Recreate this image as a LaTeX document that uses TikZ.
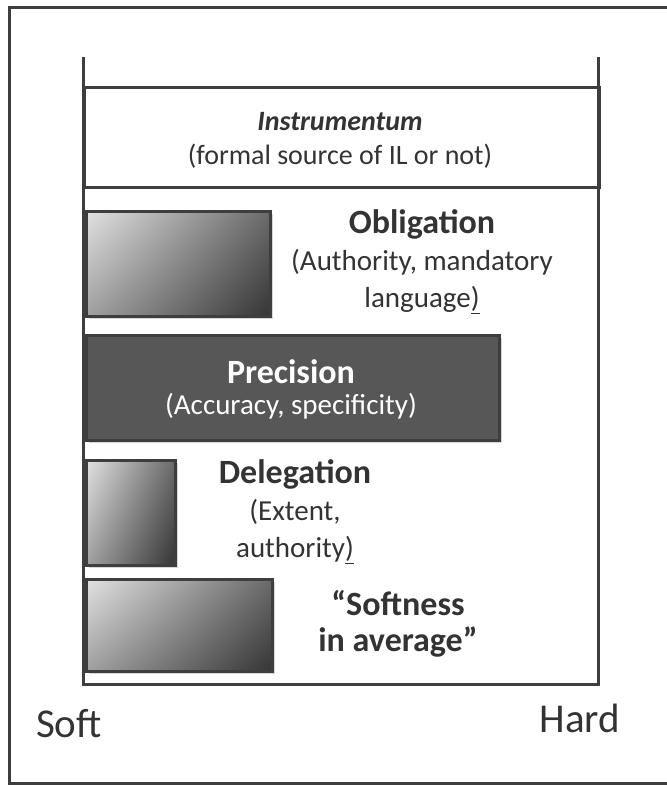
\documentclass[tikz,border=0pt]{standalone}
\usepackage{fontspec}
\setmainfont{Carlito}
\usetikzlibrary{shadows,shadings}
\definecolor{ink}{HTML}{333333}
\definecolor{edge}{HTML}{3E3E3E}
\definecolor{ulc}{HTML}{E2E2E2}
\definecolor{llc}{HTML}{A0A0A0}
\definecolor{urc}{HTML}{6A6A6A}
\definecolor{lrc}{HTML}{353535}
\definecolor{precfill}{HTML}{575757}
\newcommand\bartitlefmt{\fontsize{34}{37}\selectfont\bfseries}
\begin{document}
\begin{tikzpicture}[x=1pt,y=-1pt,
  frameline/.style={draw=edge,line width=3pt},
  barbox/.style={draw=edge,line width=2.5pt,inner sep=0pt,anchor=north west,
     drop shadow={shadow xshift=2.5pt,shadow yshift=-2.5pt,fill=black!30}},
  gradbar/.style={barbox,upper left=ulc,lower left=llc,upper right=urc,lower right=lrc},
  regtext/.style={text=ink,align=center,font=\fontsize{29}{37}\selectfont},
  axislabel/.style={text=ink,font=\fontsize{41}{44}\selectfont}]
\useasboundingbox (0,0) rectangle (667,785);
% outer frame (its right side lies beyond the picture)
\draw[frameline] (700,7) -- (9,7) -- (9,783) -- (700,783);
% axis frame
\coordinate (tl) at (83,57);
\coordinate (tr) at (598,57);
\coordinate (bl) at (83,684);
\coordinate (br) at (598,684);
\draw[frameline] (tl) -- (bl) -- (br) -- (tr);
% instrumentum box
\node (instr) [draw=edge,line width=3pt,minimum width=515pt,minimum height=100pt,inner sep=0pt,
   anchor=north west] at (83,86) {};
\node (instrtxt) [regtext,font=\fontsize{28}{34}\selectfont] at (340,140)
  {\textbf{\textit{Instrumentum}}\\(formal source of IL or not)};
% bars
\node (obl) [gradbar,minimum width=184pt,minimum height=105pt] at (85,210) {};
\node (prec) [barbox,fill=precfill,minimum width=413pt,minimum height=105pt] at (85,334) {};
\node (del) [gradbar,minimum width=89pt,minimum height=105pt] at (85,459) {};
\node (soft) [gradbar,minimum width=186pt,minimum height=92pt] at (85,578) {};
% texts
\node (obltxt) [regtext] at (422,262)
  {{\bartitlefmt Obligation}\\(Authority, mandatory\\language\underline{)}};
\node (prectxt) [regtext,text=white,font=\fontsize{29}{31}\selectfont] at (291,389)
  {{\bartitlefmt Precision}\\(Accuracy, specificity)};
\node (deltxt) [regtext] at (295,512)
  {{\bartitlefmt Delegation}\\(Extent,\\authority\underline{)}};
\node (softtxt) [regtext,font=\fontsize{34}{36}\selectfont\bfseries] at (398,624)
  {“Softness\\in average”};
% axis labels
\node (softlbl) [axislabel] at (69,724) {Soft};
\node (hardlbl) [axislabel] at (580,718) {Hard};
\end{tikzpicture}
\end{document}
